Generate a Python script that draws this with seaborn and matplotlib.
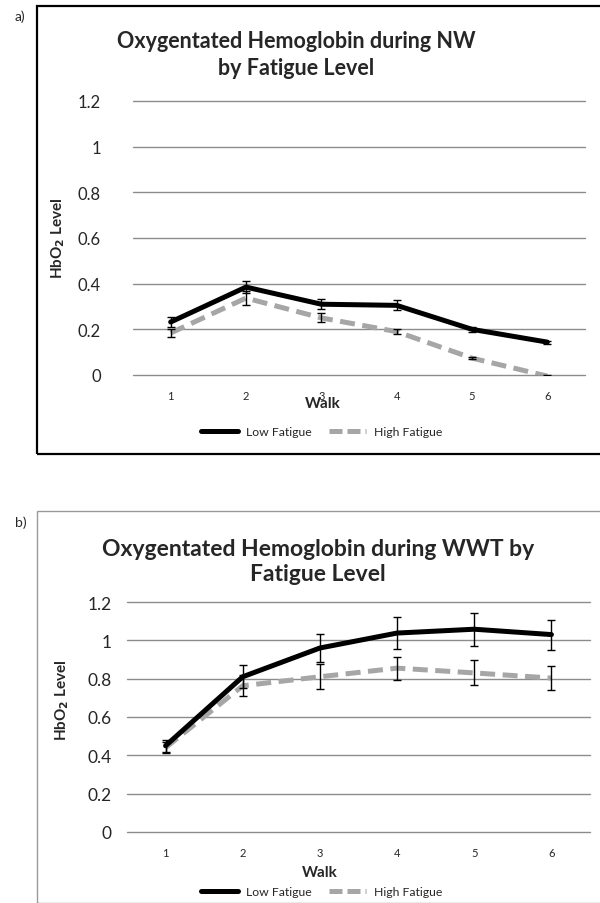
import numpy as np
import pandas as pd
import matplotlib
matplotlib.use("Agg")
import matplotlib.pyplot as plt
import seaborn as sns
from matplotlib.patches import Rectangle
from matplotlib.lines import Line2D

walks = [1, 2, 3, 4, 5, 6]

# NW panel
nw_low = [0.232, 0.385, 0.31, 0.305, 0.2, 0.144]
nw_low_err = [0.02, 0.027, 0.023, 0.022, 0.01, 0.007]
nw_high = [0.184, 0.337, 0.25, 0.19, 0.074, -0.005]
nw_high_err = [0.018, 0.03, 0.02, 0.012, 0.005, 0.004]

# WWT panel
wwt_low = [0.45, 0.81, 0.96, 1.038, 1.058, 1.03]
wwt_low_err = [0.03, 0.06, 0.075, 0.082, 0.085, 0.078]
wwt_high = [0.44, 0.763, 0.81, 0.855, 0.83, 0.803]
wwt_high_err = [0.03, 0.055, 0.065, 0.06, 0.065, 0.062]

yticks = [0, 0.2, 0.4, 0.6, 0.8, 1, 1.2]
ytick_labels = ["0", "0.2", "0.4", "0.6", "0.8", "1", "1.2"]

black = "#000000"
grey = "#A6A6A6"
grid_grey = "#8C8C8C"

sns.set_style("white")
plt.rcParams['font.family'] = ['Lato', 'DejaVu Sans']

fig = plt.figure(figsize=(6, 9.04), dpi=100)
W, H = 600, 904


def px_axes(l, t, r, b):
    return fig.add_axes([l / W, 1 - b / H, (r - l) / W, (b - t) / H])


def draw_panel(ax, low, low_err, high, high_err, ytick_size, xtick_size):
    df = pd.DataFrame({"walk": walks * 2,
                       "value": low + high,
                       "group": ["Low Fatigue"] * 6 + ["High Fatigue"] * 6})
    sns.lineplot(data=df[df.group == "Low Fatigue"], x="walk", y="value",
                 color=black, lw=3.6, ax=ax, zorder=3, errorbar=None)
    sns.lineplot(data=df[df.group == "High Fatigue"], x="walk", y="value",
                 color=grey, lw=3.6, ax=ax, zorder=2, errorbar=None,
                 dashes=False)
    ax.lines[-1].set_dashes([3.0, 1.5])
    ax.errorbar(walks, low, yerr=low_err, fmt="none", ecolor=black,
                elinewidth=1, capsize=3, capthick=1, zorder=4)
    ax.errorbar(walks, high, yerr=high_err, fmt="none", ecolor=black,
                elinewidth=1, capsize=3, capthick=1, zorder=4)
    ax.set_xlim(0.5, 6.5)
    ax.set_ylim(0, 1.2)
    ax.set_yticks(yticks)
    ax.set_yticklabels(ytick_labels, fontsize=ytick_size)
    ax.set_xticks(walks)
    ax.set_xticklabels([str(w) for w in walks], fontsize=xtick_size)
    ax.yaxis.grid(True, color=grid_grey, lw=1)
    ax.set_axisbelow(True)
    for s in ax.spines.values():
        s.set_visible(False)
    ax.tick_params(length=0)
    ax.set_xlabel("")
    ax.set_ylabel("")
    for line in ax.get_ygridlines():
        line.set_clip_on(False)


# ---------------- panel a ----------------
ax1 = px_axes(133, 102, 585, 376)
draw_panel(ax1, nw_low, nw_low_err, nw_high, nw_high_err, 12, 8)
ax1.tick_params(axis="y", pad=23)
ax1.tick_params(axis="x", pad=11)
fig.text(296 / W, 1 - 55 / H, "Oxygentated Hemoglobin during NW\nby Fatigue Level",
         ha="center", va="center", fontsize=15.5, fontweight="bold",
         linespacing=1.35)
fig.text(58 / W, 1 - 238 / H, r"HbO$_\mathbf{2}$ Level", rotation=90,
         ha="center", va="center", fontsize=11, fontweight="bold")
fig.text(323 / W, 1 - 404 / H, "Walk", ha="center", va="center",
         fontsize=11, fontweight="bold")
fig.text(15 / W, 1 - 17 / H, "a)", ha="left", va="center", fontsize=10)
fig.patches.append(Rectangle((37 / W, 1 - 455 / H), 1.0, 448 / H,
                             transform=fig.transFigure, fill=False,
                             edgecolor="#000000", lw=1.6, clip_on=False))

# ---------------- panel b ----------------
ax2 = px_axes(127, 603, 590, 833)
draw_panel(ax2, wwt_low, wwt_low_err, wwt_high, wwt_high_err, 12.5, 8)
ax2.tick_params(axis="y", pad=11)
ax2.tick_params(axis="x", pad=11)
fig.text(318 / W, 1 - 562 / H, "Oxygentated Hemoglobin during WWT by\nFatigue Level",
         ha="center", va="center", fontsize=16.5, fontweight="bold",
         linespacing=1.25)
fig.text(62 / W, 1 - 700 / H, r"HbO$_\mathbf{2}$ Level", rotation=90,
         ha="center", va="center", fontsize=11, fontweight="bold")
fig.text(320 / W, 1 - 873 / H, "Walk", ha="center", va="center",
         fontsize=11, fontweight="bold")
fig.text(15 / W, 1 - 523 / H, "b)", ha="left", va="center", fontsize=10)
fig.patches.append(Rectangle((37 / W, 0), 1.0, 1 - 512 / H,
                             transform=fig.transFigure, fill=False,
                             edgecolor="#9A9A9A", lw=1.0, clip_on=False))

# legends
handles = [Line2D([], [], color=black, lw=3.6),
           Line2D([], [], color=grey, lw=3.6, dashes=[2.6, 1.0])]
for ly in (433, 893):
    fig.legend(handles, ["Low Fatigue", "High Fatigue"], loc="center",
               bbox_to_anchor=(322 / W, 1 - ly / H), ncol=2, frameon=False,
               fontsize=8.8, handlelength=3.0, columnspacing=1.4,
               handletextpad=0.7)

fig.savefig("out.png", dpi=100)
